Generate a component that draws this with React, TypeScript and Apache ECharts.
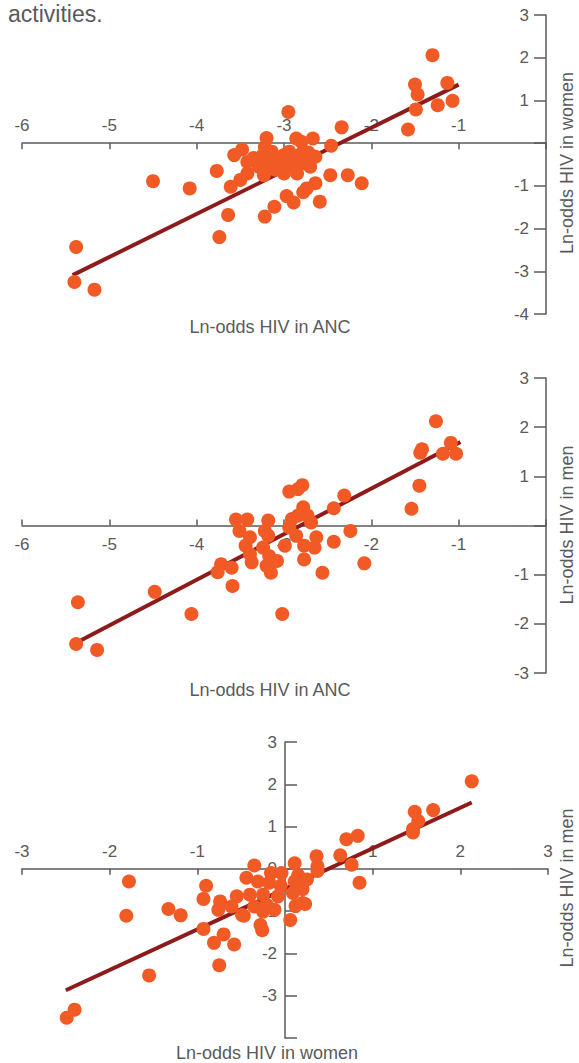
import React, { useEffect, useRef } from "react";
import * as echarts from "echarts";

// Panel 1: Ln-odds HIV in ANC (x) vs Ln-odds HIV in women (y)
const p1X = [-2.95, -2.34, -3.2, -2.86, -2.67, -2.8, -2.46, -3.22, -3.48, -3.57, -3.14, -3.0, -2.94, -2.81, -2.64, -3.42, -3.29, -3.17, -3.08, -2.93, -2.78, -2.7, -2.85, -3.0, -3.23, -3.42, -3.77, -3.5, -3.61, -2.47, -2.27, -2.11, -2.64, -2.74, -2.78, -2.97, -2.89, -3.11, -2.59, -3.22, -3.64, -4.08, -4.5, -3.74, -5.38, -5.4, -5.17, -1.3, -1.5, -1.47, -1.13, -1.07, -1.24, -1.49, -1.58, -3.35, -3.25, -3.05, -2.9, -2.72, -3.1];
const p1Y = [0.73, 0.37, 0.12, 0.11, 0.11, 0.03, -0.06, -0.09, -0.15, -0.28, -0.2, -0.28, -0.2, -0.26, -0.32, -0.44, -0.55, -0.47, -0.51, -0.51, -0.47, -0.55, -0.71, -0.71, -0.75, -0.71, -0.65, -0.86, -1.02, -0.75, -0.75, -0.94, -0.94, -1.06, -1.15, -1.24, -1.39, -1.49, -1.37, -1.72, -1.68, -1.06, -0.89, -2.2, -2.43, -3.25, -3.43, 2.06, 1.37, 1.14, 1.41, 0.99, 0.89, 0.79, 0.32, -0.35, -0.3, -0.4, -0.35, -0.22, -0.62];
const p1LineX = [-5.42, -1.0];
const p1LineY = [-3.09, 1.37];

// Panel 2: Ln-odds HIV in ANC (x) vs Ln-odds HIV in men (y)
const p2X = [-1.26, -1.44, -1.42, -1.09, -1.18, -1.03, -1.45, -1.54, -2.94, -2.79, -2.84, -2.31, -2.43, -2.78, -3.55, -3.42, -3.18, -2.91, -2.84, -2.73, -2.69, -2.94, -3.51, -3.22, -3.39, -3.18, -2.86, -2.63, -2.43, -2.24, -3.44, -3.24, -2.99, -2.77, -2.65, -3.39, -3.17, -3.08, -3.37, -2.77, -3.2, -3.15, -3.72, -3.6, -3.76, -2.08, -2.56, -3.59, -4.48, -4.06, -3.02, -5.36, -5.38, -5.14];
const p2Y = [2.12, 1.48, 1.55, 1.68, 1.46, 1.46, 0.81, 0.34, 0.69, 0.82, 0.74, 0.61, 0.35, 0.37, 0.12, 0.12, 0.1, 0.13, 0.2, 0.2, 0.06, -0.04, -0.11, -0.11, -0.24, -0.21, -0.21, -0.24, -0.33, -0.11, -0.41, -0.45, -0.41, -0.41, -0.45, -0.58, -0.62, -0.72, -0.75, -0.69, -0.82, -0.96, -0.79, -0.86, -0.95, -0.77, -0.96, -1.23, -1.35, -1.8, -1.8, -1.56, -2.41, -2.53];
const p2LineX = [-5.34, -0.98];
const p2LineY = [-2.35, 1.7];

// Panel 3: Ln-odds HIV in women (x) vs Ln-odds HIV in men (y)
const p3X = [2.13, 1.69, 1.48, 1.52, 1.46, 1.46, 0.7, 0.83, 0.36, 0.63, 0.76, 0.37, 0.37, 0.85, 0.11, -0.35, -1.78, -0.9, -0.93, -1.81, -1.33, -1.19, -0.93, -0.7, -0.81, -0.58, -0.75, -1.55, -2.4, -2.49, -0.28, -0.26, 0.06, 0.23, -0.47, -0.16, -0.04, -0.44, -0.31, -0.18, 0.11, 0.2, -0.74, -0.55, -0.4, -0.25, -0.08, 0.09, -0.76, -0.61, -0.35, -0.21, -0.12, 0.2, 0.12, -0.49, -0.25, 0.15, -0.05, 0.25];
const p3Y = [2.07, 1.39, 1.35, 1.13, 0.94, 0.86, 0.7, 0.78, 0.3, 0.32, 0.1, 0.06, -0.05, -0.33, 0.13, 0.08, -0.3, -0.4, -0.71, -1.11, -0.95, -1.1, -1.42, -1.55, -1.75, -1.79, -2.28, -2.52, -3.33, -3.52, -1.33, -1.45, -1.21, -0.83, -1.11, -0.1, -0.1, -0.21, -0.3, -0.33, -0.3, -0.48, -0.77, -0.65, -0.61, -0.61, -0.65, -0.57, -0.97, -0.89, -0.89, -0.85, -0.97, -0.81, -0.88, -1.09, -1.01, -0.15, -0.4, -0.25];
const p3LineX = [-2.5, 2.13];
const p3LineY = [-2.87, 1.57];

const xTicks1 = ["-6", "-5", "-4", "-3", "-2", "-1"];
const xTicks3 = ["-3", "-2", "-1", "1", "2", "3"];
const yTicks1 = ["3", "2", "1", "-1", "-2", "-3", "-4"];
const yTicks2 = ["3", "2", "1", "-1", "-2", "-3"];
const yTicks3 = ["3", "2", "1", "0", "-1", "-2", "-3"];

const FONT = "Liberation Sans, Arial, sans-serif";
const TEXT = "#5a5a5a";
const AXIS = "#5a5a5a";
const DOT = "#f15a24";
const LINE = "#8e1b1b";

const zip = (xs: number[], ys: number[]) => xs.map((x, i) => [x, ys[i]]);

export default function App() {
  const ref = useRef<HTMLDivElement>(null);
  useEffect(() => {
    document.body.style.margin = "0";
    if (!ref.current) return;
    const chart = echarts.init(ref.current, null, { renderer: "svg" });

    const G = [
      { left: 22, top: 15, width: 524, height: 299, yMin: -4, yMax: 3, xMin: -6, xMax: 0 },
      { left: 22, top: 378, width: 524, height: 295, yMin: -3, yMax: 3, xMin: -6, xMax: 0 },
      { left: 22, top: 742, width: 526, height: 296, yMin: -4, yMax: 3, xMin: -3, xMax: 3 },
    ];
    // distance (px) from grid top to the y = 0 line, and from grid left to x = 0
    const zeroFromTop = (g: any) => (g.height * g.yMax) / (g.yMax - g.yMin);
    const zeroFromLeft = (g: any) => (g.width * -g.xMin) / (g.xMax - g.xMin);

    const labelStyle = (ticks: string[], margin: number, inside: boolean) => ({
      inside,
      margin,
      color: TEXT,
      fontFamily: FONT,
      fontSize: 17,
      formatter: (v: number) => (ticks.indexOf(String(v)) >= 0 ? String(v) : ""),
    });
    const lineStyle = { color: AXIS, width: 1.5 };

    const xAxis = [
      {
        type: "value", gridIndex: 0, min: G[0].xMin, max: G[0].xMax, interval: 1,
        position: "top", offset: -zeroFromTop(G[0]),
        splitLine: { show: false },
        axisLine: { onZero: false, lineStyle },
        axisTick: { inside: true, length: 6, lineStyle },
        axisLabel: labelStyle(xTicks1, 9, false),
      },
      {
        type: "value", gridIndex: 1, min: G[1].xMin, max: G[1].xMax, interval: 1,
        position: "bottom", offset: -(G[1].height - zeroFromTop(G[1])),
        splitLine: { show: false },
        axisLine: { onZero: false, lineStyle },
        axisTick: { inside: true, length: 6, lineStyle },
        axisLabel: labelStyle(xTicks1, 10, false),
      },
      {
        type: "value", gridIndex: 2, min: G[2].xMin, max: G[2].xMax, interval: 1,
        position: "top", offset: -zeroFromTop(G[2]),
        splitLine: { show: false },
        axisLine: { onZero: false, lineStyle },
        axisTick: { inside: true, length: 6, lineStyle },
        axisLabel: labelStyle(xTicks3, 9, false),
      },
    ];
    const yAxis = [
      {
        type: "value", gridIndex: 0, min: G[0].yMin, max: G[0].yMax, interval: 1,
        position: "right",
        splitLine: { show: false },
        axisLine: { onZero: false, lineStyle },
        axisTick: { inside: true, length: 12, lineStyle },
        axisLabel: labelStyle(yTicks1, 17, true),
      },
      {
        type: "value", gridIndex: 1, min: G[1].yMin, max: G[1].yMax, interval: 1,
        position: "right",
        splitLine: { show: false },
        axisLine: { onZero: false, lineStyle },
        axisTick: { inside: true, length: 12, lineStyle },
        axisLabel: labelStyle(yTicks2, 17, true),
      },
      {
        type: "value", gridIndex: 2, min: G[2].yMin, max: G[2].yMax, interval: 1,
        position: "left", offset: -zeroFromLeft(G[2]),
        splitLine: { show: false },
        axisLine: { onZero: false, lineStyle },
        axisTick: { inside: true, length: 12, lineStyle },
        axisLabel: labelStyle(yTicks3, 8, false),
      },
    ];

    const scatter = (i: number, xs: number[], ys: number[]) => ({
      type: "scatter",
      xAxisIndex: i,
      yAxisIndex: i,
      data: zip(xs, ys),
      symbolSize: 14,
      itemStyle: { color: DOT, opacity: 1 },
      z: 3,
    });
    const fit = (i: number, xs: number[], ys: number[]) => ({
      type: "line",
      xAxisIndex: i,
      yAxisIndex: i,
      data: zip(xs, ys),
      showSymbol: false,
      symbol: "none",
      lineStyle: { color: LINE, width: 4 },
      z: 2,
    });

    const nameText = (x: number, y: number, text: string, rotate = 0) => ({
      type: "text",
      x,
      y,
      rotation: rotate,
      style: {
        text,
        fill: TEXT,
        font: `18px ${FONT}`,
        textAlign: "center",
        textVerticalAlign: "middle",
      },
    });

    chart.setOption({
      animation: false,
      grid: G.map((g) => ({ left: g.left, top: g.top, width: g.width, height: g.height })),
      xAxis,
      yAxis,
      series: [
        fit(0, p1LineX, p1LineY),
        scatter(0, p1X, p1Y),
        fit(1, p2LineX, p2LineY),
        scatter(1, p2X, p2Y),
        fit(2, p3LineX, p3LineY),
        scatter(2, p3X, p3Y),
      ],
      graphic: [
        {
          type: "text",
          left: 8,
          top: 2,
          style: { text: "activities.", fill: TEXT, font: `23px ${FONT}` },
        },
        nameText(270, 327, "Ln-odds HIV in ANC"),
        nameText(567, 163, "Ln-odds HIV in women", Math.PI / 2),
        nameText(270, 690, "Ln-odds HIV in ANC"),
        nameText(567, 525, "Ln-odds HIV in men", Math.PI / 2),
        nameText(267, 1053, "Ln-odds HIV in women"),
        nameText(567, 888, "Ln-odds HIV in men", Math.PI / 2),
      ],
    });
    return () => chart.dispose();
  }, []);
  return <div ref={ref} style={{ width: 579, height: 1063 }} />;
}
